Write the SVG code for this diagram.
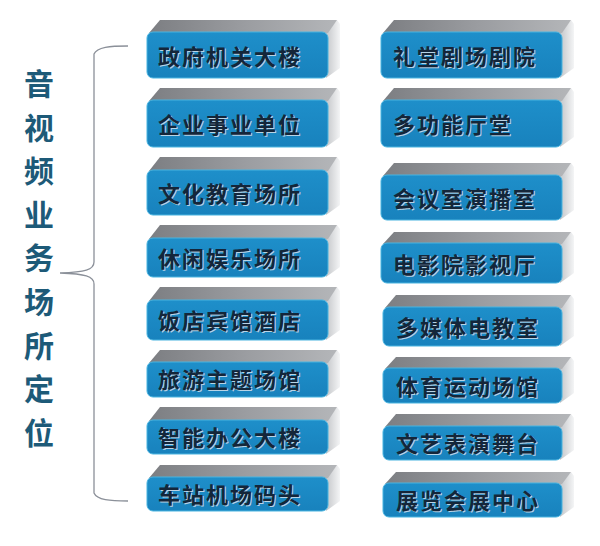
<svg xmlns="http://www.w3.org/2000/svg" width="600" height="546" viewBox="0 0 600 546">
<defs>
<linearGradient id="gTop" x1="0" y1="0" x2="1" y2="0">
<stop offset="0" stop-color="#7c7e82"/>
<stop offset="0.5" stop-color="#9a9ca0"/>
<stop offset="1" stop-color="#b4b6b9"/>
</linearGradient>
<linearGradient id="gSide" x1="0" y1="0" x2="1" y2="0">
<stop offset="0" stop-color="#c4c6c9"/>
<stop offset="1" stop-color="#f4f5f6"/>
</linearGradient>
<linearGradient id="gFront" x1="0" y1="0" x2="0" y2="1">
<stop offset="0" stop-color="#1e8fca"/>
<stop offset="1" stop-color="#1882bd"/>
</linearGradient>
</defs>
<style>
.top{fill:url(#gTop)}
.side{fill:url(#gSide)}
.front{fill:url(#gFront);stroke:#49b4e0;stroke-width:1}
.t{font-family:"Noto Sans CJK SC","Noto Sans CJK TC",sans-serif;font-size:22px;font-weight:700;letter-spacing:2px;fill:#14263a}
.ts{font-family:"Noto Sans CJK SC","Noto Sans CJK TC",sans-serif;font-size:22px;font-weight:700;letter-spacing:2px;fill:#b8d4e6}
.title{font-family:"Noto Sans CJK SC","Noto Sans CJK TC",serif;font-size:30px;font-weight:700;fill:#1d5a78;text-anchor:middle}
.brace{fill:none;stroke:#8b9099;stroke-width:1.3}
</style>
<rect width="600" height="546" fill="#ffffff"/>

<g id="title">
<text class="title" x="39" y="95">音</text>
<text class="title" x="39" y="139">视</text>
<text class="title" x="39" y="182">频</text>
<text class="title" x="39" y="226">业</text>
<text class="title" x="39" y="269">务</text>
<text class="title" x="39" y="313">场</text>
<text class="title" x="39" y="357">所</text>
<text class="title" x="39" y="400">定</text>
<text class="title" x="39" y="444">位</text>
</g>

<g id="connectors">
<path class="brace" d="M128,46 C110,46 97,47 94,54 L94,262 C94,270 85,272 60,273 C85,274 94,276 94,284 L94,493 C97,500 110,501 128,501"/>
</g>

<!-- left column -->
<g id="n1">
<polygon class="side" points="326,33 337,20 340,24 340,68 326,78"/>
<polygon class="top" points="149,33 160,20 337,20 328,33"/>
<rect class="front" x="147" y="32" width="181" height="46" rx="6"/>
<text class="ts" x="159" y="66">政府机关大楼</text>
<text class="t" x="158" y="65">政府机关大楼</text>
</g>
<g id="n2">
<polygon class="side" points="326,101 337,88 340,92 340,137 326,147"/>
<polygon class="top" points="149,101 160,88 337,88 328,101"/>
<rect class="front" x="147" y="100" width="181" height="47" rx="6"/>
<text class="ts" x="159" y="134">企业事业单位</text>
<text class="t" x="158" y="133">企业事业单位</text>
</g>
<g id="n3">
<polygon class="side" points="326,171 337,157 340,161 340,205 326,215"/>
<polygon class="top" points="149,171 160,157 337,157 328,171"/>
<rect class="front" x="147" y="170" width="181" height="45" rx="6"/>
<text class="ts" x="159" y="203">文化教育场所</text>
<text class="t" x="158" y="202">文化教育场所</text>
</g>
<g id="n4">
<polygon class="side" points="326,239 337,225 340,229 340,267 326,277"/>
<polygon class="top" points="149,239 160,225 337,225 328,239"/>
<rect class="front" x="147" y="238" width="181" height="39" rx="6"/>
<text class="ts" x="159" y="268">休闲娱乐场所</text>
<text class="t" x="158" y="267">休闲娱乐场所</text>
</g>
<g id="n5">
<polygon class="side" points="326,301 337,287 340,291 340,330 326,340"/>
<polygon class="top" points="149,301 160,287 337,287 328,301"/>
<rect class="front" x="147" y="300" width="181" height="40" rx="6"/>
<text class="ts" x="159" y="330">饭店宾馆酒店</text>
<text class="t" x="158" y="329">饭店宾馆酒店</text>
</g>
<g id="n6">
<polygon class="side" points="326,363 337,350 340,354 340,387 326,397"/>
<polygon class="top" points="149,363 160,350 337,350 328,363"/>
<rect class="front" x="147" y="362" width="181" height="35" rx="6"/>
<text class="ts" x="159" y="389">旅游主题场馆</text>
<text class="t" x="158" y="388">旅游主题场馆</text>
</g>
<g id="n7">
<polygon class="side" points="326,421 337,407 340,411 340,444 326,454"/>
<polygon class="top" points="149,421 160,407 337,407 328,421"/>
<rect class="front" x="147" y="420" width="181" height="34" rx="6"/>
<text class="ts" x="159" y="447">智能办公大楼</text>
<text class="t" x="158" y="446">智能办公大楼</text>
</g>
<g id="n8">
<polygon class="side" points="326,478 337,465 340,469 340,501 326,511"/>
<polygon class="top" points="149,478 160,465 337,465 328,478"/>
<rect class="front" x="147" y="477" width="181" height="34" rx="6"/>
<text class="ts" x="159" y="504">车站机场码头</text>
<text class="t" x="158" y="503">车站机场码头</text>
</g>

<!-- right column -->
<g id="n9">
<polygon class="side" points="560,33 571,20 574,24 574,68 560,78"/>
<polygon class="top" points="383,33 394,20 571,20 562,33"/>
<rect class="front" x="381" y="32" width="181" height="46" rx="6"/>
<text class="ts" x="394" y="66">礼堂剧场剧院</text>
<text class="t" x="393" y="65">礼堂剧场剧院</text>
</g>
<g id="n10">
<polygon class="side" points="560,101 571,88 574,92 574,137 560,147"/>
<polygon class="top" points="383,101 394,88 571,88 562,101"/>
<rect class="front" x="381" y="100" width="181" height="47" rx="6"/>
<text class="ts" x="394" y="134">多功能厅堂</text>
<text class="t" x="393" y="133">多功能厅堂</text>
</g>
<g id="n11">
<polygon class="side" points="560,176 571,163 574,167 574,210 560,220"/>
<polygon class="top" points="383,176 394,163 571,163 562,176"/>
<rect class="front" x="381" y="175" width="181" height="45" rx="6"/>
<text class="ts" x="394" y="208">会议室演播室</text>
<text class="t" x="393" y="207">会议室演播室</text>
</g>
<g id="n12">
<polygon class="side" points="560,244 571,232 574,236 574,273 560,283"/>
<polygon class="top" points="383,244 394,232 571,232 562,244"/>
<rect class="front" x="381" y="243" width="181" height="40" rx="6"/>
<text class="ts" x="394" y="274">电影院影视厅</text>
<text class="t" x="393" y="273">电影院影视厅</text>
</g>
<g id="n13">
<polygon class="side" points="560,308 571,295 574,299 574,336 560,346"/>
<polygon class="top" points="385,308 396,295 571,295 562,308"/>
<rect class="front" x="383" y="307" width="179" height="39" rx="6"/>
<text class="ts" x="397" y="337">多媒体电教室</text>
<text class="t" x="396" y="336">多媒体电教室</text>
</g>
<g id="n14">
<polygon class="side" points="560,369 571,357 574,361 574,393 560,403"/>
<polygon class="top" points="385,369 396,357 571,357 562,369"/>
<rect class="front" x="383" y="368" width="179" height="35" rx="6"/>
<text class="ts" x="397" y="396">体育运动场馆</text>
<text class="t" x="396" y="395">体育运动场馆</text>
</g>
<g id="n15">
<polygon class="side" points="560,427 571,414 574,418 574,450 560,460"/>
<polygon class="top" points="385,427 396,414 571,414 562,427"/>
<rect class="front" x="383" y="426" width="179" height="34" rx="6"/>
<text class="ts" x="397" y="453">文艺表演舞台</text>
<text class="t" x="396" y="452">文艺表演舞台</text>
</g>
<g id="n16">
<polygon class="side" points="560,484 571,472 574,476 574,507 560,517"/>
<polygon class="top" points="385,484 396,472 571,472 562,484"/>
<rect class="front" x="383" y="483" width="179" height="34" rx="6"/>
<text class="ts" x="397" y="510">展览会展中心</text>
<text class="t" x="396" y="509">展览会展中心</text>
</g>
</svg>
